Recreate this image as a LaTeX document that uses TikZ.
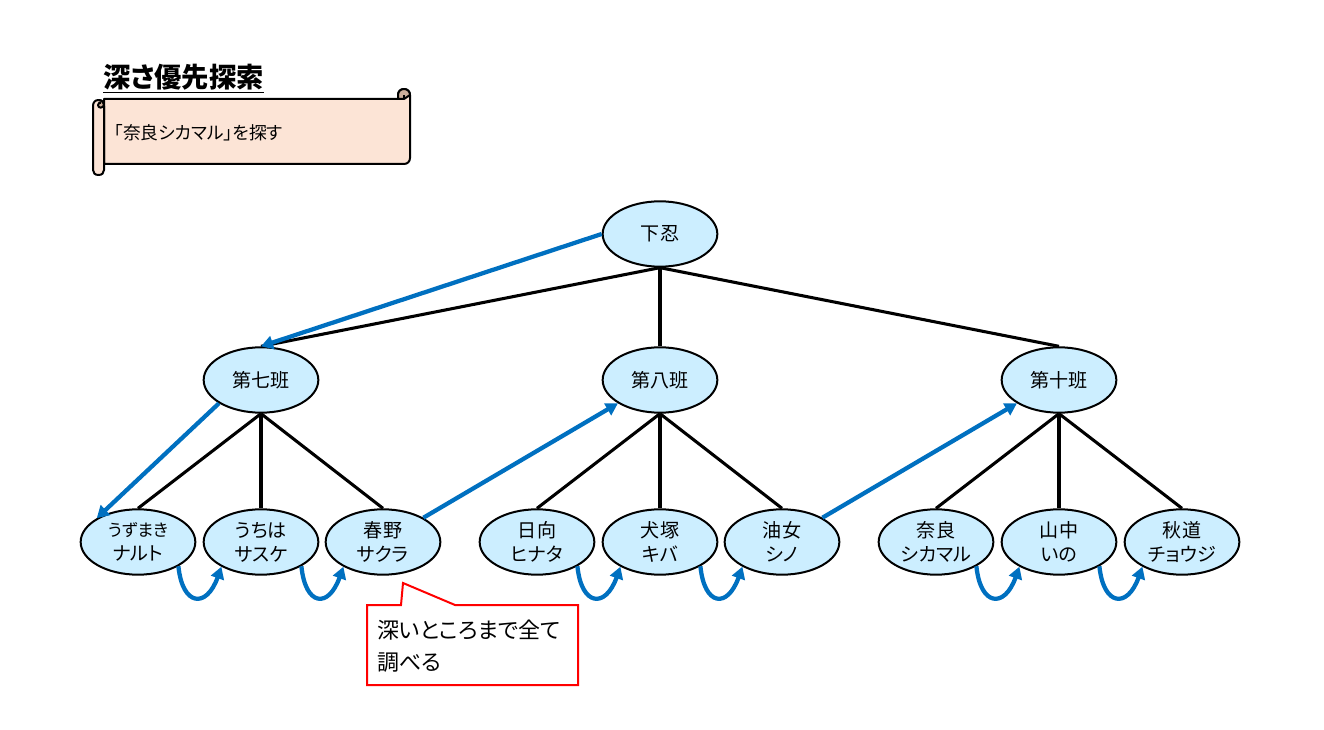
\documentclass[tikz,border=0pt]{standalone}
\usepackage{fontspec}
\setmainfont[RawFeature=+palt]{Noto Sans CJK JP}
\usetikzlibrary{shapes.geometric,arrows.meta,positioning}
\definecolor{nodefill}{RGB}{204,238,255}
\definecolor{bluearrow}{RGB}{0,112,192}
\definecolor{scrollfill}{RGB}{252,228,214}
\definecolor{scrolldark}{RGB}{205,175,155}
\tikzset{
  member/.style={ellipse,draw=black,line width=1.5pt,fill=nodefill,minimum width=86pt,minimum height=49pt,inner sep=0pt,align=center,font=\fontsize{14.3}{18}\selectfont},
  branch/.style={line width=2.3pt,black},
  search/.style={line width=3.2pt,bluearrow,-{Triangle[length=9pt,width=10pt]}},
  scrollline/.style={line width=1.5pt,black,line join=round}
}
\begin{document}
\begin{tikzpicture}[x=0.75pt,y=0.75pt,yscale=-1]
\useasboundingbox (0,0) rectangle (1324,730);
\draw[scrollline,fill=scrollfill] (104,99) -- (398,99) -- (398,95) .. controls (398,91.5) and (400.5,89) .. (404,89) .. controls (407.5,89) and (410,91.5) .. (410,95) -- (410,158) .. controls (410,161.5) and (407.5,164) .. (404,164) -- (104,164) -- cycle;
\draw[scrollline,fill=scrolldark] (398,99) -- (404,99) -- (410,95) .. controls (410,91.5) and (407.5,89) .. (404,89) .. controls (400.5,89) and (398,91.5) .. (398,95) -- cycle;
\draw[scrollline] (404,99) -- (404,95);
\draw[scrollline,fill=scrollfill] (93,106) .. controls (93,102.5) and (95,100) .. (98.5,100) .. controls (102,100) and (104,102.5) .. (104,106) -- (104,170) .. controls (104,173) and (102,175) .. (98.5,175) .. controls (95,175) and (93,173) .. (93,170) -- cycle;
\draw[scrollline,fill=scrolldark] (98.5,100) .. controls (102,100) and (104,102.5) .. (104,105) .. controls (103,108.5) and (98,108.5) .. (98,105) .. controls (98,103) and (100,102) .. (101,103);
\node[anchor=west,inner sep=0pt,font=\fontsize{13.3}{14}\selectfont] (task) at (114,133) {「奈良シカマル」を探す};
\node[anchor=west,inner sep=0pt,font=\fontsize{20.5}{24}\bfseries\selectfont] (title) at (103,79) {\underline{深さ優先探索}};

\node[member] (genin) at (660,234) {下忍};
\node[member] (team7) at (261,380) {第七班};
\node[member] (team8) at (660,380) {第八班};
\node[member] (team10) at (1059,380) {第十班};
\node[member] (naruto) at (138,542) {{\fontsize{12.7}{18}\selectfont うずまき}\\ナルト};
\node[member] (sasuke) at (261,542) {うちは\\サスケ};
\node[member] (sakura) at (383,542) {春野\\サクラ};
\node[member] (hinata) at (537,542) {日向\\ヒナタ};
\node[member] (kiba) at (660,542) {犬塚\\キバ};
\node[member] (shino) at (782,542) {油女\\シノ};
\node[member] (shikamaru) at (936,542) {奈良\\シカマル};
\node[member] (ino) at (1059,542) {山中\\いの};
\node[member] (choji) at (1182,542) {秋道\\チョウジ};

\draw[branch] (genin.south) -- (team7.north);
\draw[branch] (genin.south) -- (team8.north);
\draw[branch] (genin.south) -- (team10.north);
\foreach \parent/\kids in {team7/{naruto,sasuke,sakura},team8/{hinata,kiba,shino},team10/{shikamaru,ino,choji}}
  \foreach \kid in \kids
    \draw[branch] (\parent.south) -- (\kid.north);

\draw[search] (genin.west) -- (team7.north);
\draw[search] (team7.209) -- (naruto.150);
\draw[search] (sakura.31) -- (team8.209);
\draw[search] (shino.31) -- (team10.209);
\foreach \from/\to in {naruto/sasuke,sasuke/sakura,hinata/kiba,kiba/shino,shikamaru/ino,ino/choji}
  \draw[search] (\from.-31) .. controls +(4,40) and +(-15,42) .. (\to.212);

\draw[red,line width=1.5pt,fill=white] (367,605) -- (401,605) -- (403,583) -- (455,605) -- (578,605) -- (578,685) -- (367,685) -- cycle;
\node[anchor=north west,inner sep=0pt,align=left,font=\fontsize{16.5}{23.5}\selectfont] (note) at (377,620) {深いところまで全て\\調べる};
\end{tikzpicture}
\end{document}
